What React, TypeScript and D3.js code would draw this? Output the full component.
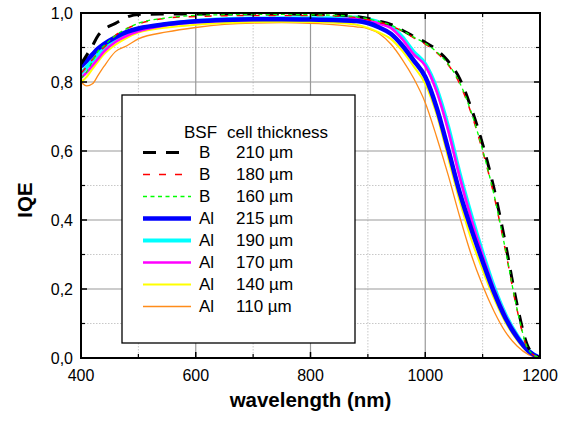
import React from "react";
import * as d3 from "d3";

// wavelength grid (nm) shared by all measured curves
const wavelengths = [
  400, 410, 420, 430, 440, 460, 480, 500, 550, 600, 650, 700, 750, 800, 850, 880,
  900, 920, 940, 960, 980, 1000, 1020, 1040, 1060, 1080, 1100, 1120, 1140, 1160, 1180, 1200,
];

// IQE values per cell
const bsfB210 = [
  0.852, 0.878, 0.905, 0.935, 0.952, 0.97, 0.988, 0.996, 0.997, 0.997, 0.997, 0.997, 0.997, 0.996, 0.994, 0.99,
  0.984, 0.976, 0.967, 0.95, 0.932, 0.915, 0.893, 0.86, 0.81, 0.725, 0.62, 0.49, 0.33, 0.155, 0.03, 0.0,
];
const bsfB180 = [
  0.825, 0.845, 0.865, 0.885, 0.9, 0.935, 0.955, 0.968, 0.985, 0.99, 0.992, 0.993, 0.993, 0.993, 0.991, 0.987,
  0.981, 0.973, 0.963, 0.947, 0.928, 0.91, 0.885, 0.85, 0.795, 0.71, 0.6, 0.47, 0.31, 0.14, 0.022, 0.0,
];
const bsfB160 = [
  0.81, 0.83, 0.86, 0.89, 0.905, 0.935, 0.955, 0.97, 0.986, 0.993, 0.995, 0.996, 0.996, 0.995, 0.993, 0.989,
  0.983, 0.975, 0.965, 0.949, 0.93, 0.912, 0.887, 0.852, 0.798, 0.713, 0.603, 0.472, 0.312, 0.142, 0.024, 0.0,
];
const al215 = [
  0.845, 0.862, 0.88, 0.897, 0.91, 0.93, 0.945, 0.955, 0.968, 0.976, 0.98, 0.982, 0.982, 0.981, 0.979, 0.977,
  0.971, 0.958, 0.94, 0.906, 0.862, 0.815, 0.725, 0.605, 0.48, 0.375, 0.28, 0.19, 0.115, 0.06, 0.02, 0.0,
];
const al190 = [
  0.825, 0.843, 0.862, 0.88, 0.898, 0.925, 0.94, 0.952, 0.968, 0.977, 0.982, 0.984, 0.985, 0.985, 0.985, 0.987,
  0.982, 0.973, 0.962, 0.93, 0.887, 0.852, 0.78, 0.67, 0.535, 0.415, 0.305, 0.205, 0.125, 0.066, 0.022, 0.0,
];
const al170 = [
  0.812, 0.828, 0.848, 0.868, 0.888, 0.916, 0.934, 0.947, 0.965, 0.973, 0.978, 0.98, 0.981, 0.981, 0.982, 0.984,
  0.979, 0.969, 0.957, 0.924, 0.88, 0.847, 0.772, 0.66, 0.525, 0.405, 0.298, 0.2, 0.122, 0.064, 0.021, 0.0,
];
const al140 = [
  0.8, 0.815, 0.838, 0.86, 0.88, 0.908, 0.928, 0.943, 0.958, 0.966, 0.971, 0.974, 0.975, 0.974, 0.971, 0.966,
  0.957, 0.943, 0.925, 0.89, 0.845, 0.795, 0.705, 0.58, 0.455, 0.345, 0.255, 0.172, 0.103, 0.052, 0.016, 0.0,
];
const al110 = [
  0.8, 0.789, 0.795, 0.82, 0.845, 0.888, 0.905, 0.925, 0.945, 0.958, 0.967, 0.971, 0.972, 0.97, 0.965, 0.96,
  0.955, 0.94, 0.91, 0.865, 0.81, 0.74, 0.64, 0.53, 0.41, 0.3, 0.21, 0.135, 0.075, 0.035, 0.01, 0.0,
];

const bsfLabels = ["B", "B", "B", "Al", "Al", "Al", "Al", "Al"];
const thicknessLabels = ["210 µm", "180 µm", "160 µm", "215 µm", "190 µm", "170 µm", "140 µm", "110 µm"];

const xTicks = [400, 600, 800, 1000, 1200];
const xMinor = [500, 700, 900, 1100];
const yTicks = [0, 0.2, 0.4, 0.6, 0.8, 1.0];
const yMinor = [0.1, 0.3, 0.5, 0.7, 0.9];

type Style = { color: string; width: number; dash?: string; legendEnd: number };

const series: { values: number[]; style: Style }[] = [
  { values: bsfB210, style: { color: "#000000", width: 3, dash: "13,10", legendEnd: 179 } },
  { values: bsfB180, style: { color: "#ff0000", width: 1.5, dash: "7,9", legendEnd: 183 } },
  { values: bsfB160, style: { color: "#00ff00", width: 1.3, dash: "4,3.5", legendEnd: 191 } },
  { values: al215, style: { color: "#0000ff", width: 4.5, legendEnd: 191 } },
  { values: al190, style: { color: "#00ffff", width: 4, legendEnd: 191 } },
  { values: al170, style: { color: "#ff00ff", width: 2.6, legendEnd: 191 } },
  { values: al140, style: { color: "#ffff00", width: 2, legendEnd: 191 } },
  { values: al110, style: { color: "#ff8c1a", width: 1.3, legendEnd: 191 } },
];

// draw order: thin Al at the back, B dashed curves in front
const drawOrder = [7, 6, 4, 5, 3, 0, 1, 2];

export default function App() {
  const W = 568;
  const H = 421;
  const m = { left: 81, top: 13, right: 540, bottom: 358 };

  const x = d3.scaleLinear().domain([400, 1200]).range([m.left, m.right]);
  const y = d3.scaleLinear().domain([0, 1]).range([m.bottom, m.top]);

  const line = d3
    .line<[number, number]>()
    .x((d) => x(d[0]))
    .y((d) => y(d[1]))
    .curve(d3.curveMonotoneX);

  const font = "'Liberation Sans', Arial, Helvetica, sans-serif";
  const fmtY = (v: number) => v.toFixed(1).replace(".", ",");

  const legX = 122;
  const legY = 95;
  const rowY = (i: number) => 152.5 + i * 22;
  const legFont = 17;

  return (
    <svg
      width={W}
      height={H}
      style={{ position: "absolute", left: 0, top: 0, background: "#fff" }}
      fontFamily={font}
    >
      <defs>
        <clipPath id="plot">
          <rect x={m.left} y={m.top - 2} width={m.right - m.left} height={m.bottom - m.top + 2} />
        </clipPath>
      </defs>

      {/* minor grid */}
      {xMinor.map((v) => (
        <line key={"xm" + v} x1={x(v)} x2={x(v)} y1={m.top} y2={m.bottom} stroke="#c8c8c8" strokeWidth={1} strokeDasharray="1.5,1.5" />
      ))}
      {yMinor.map((v) => (
        <line key={"ym" + v} x1={m.left} x2={m.right} y1={y(v)} y2={y(v)} stroke="#c8c8c8" strokeWidth={1} strokeDasharray="1.5,1.5" />
      ))}
      {/* major grid */}
      {xTicks.slice(1, -1).map((v) => (
        <line key={"xg" + v} x1={x(v)} x2={x(v)} y1={m.top} y2={m.bottom} stroke="#999" strokeWidth={1.2} />
      ))}
      {yTicks.slice(1, -1).map((v) => (
        <line key={"yg" + v} x1={m.left} x2={m.right} y1={y(v)} y2={y(v)} stroke="#999" strokeWidth={1.2} />
      ))}

      {/* curves */}
      <g clipPath="url(#plot)">
        {drawOrder.map((i) => {
          const s = series[i];
          const pts = wavelengths.map((w, k) => [w, s.values[k]] as [number, number]);
          return (
            <path
              key={"s" + i}
              d={line(pts) || ""}
              fill="none"
              stroke={s.style.color}
              strokeWidth={s.style.width}
              strokeDasharray={s.style.dash}
              strokeLinejoin="round"
            />
          );
        })}
      </g>

      {/* legend */}
      <rect x={legX} y={legY} width={233} height={248} fill="#fff" stroke="#000" strokeWidth={1.3} />
      <text x={184} y={132} dominantBaseline="central" fontSize={legFont} fill="#000">BSF</text>
      <text x={227} y={132} dominantBaseline="central" fontSize={legFont} fill="#000">cell thickness</text>
      {series.map((s, i) => (
        <g key={"leg" + i}>
          <line
            x1={143}
            x2={s.style.legendEnd}
            y1={rowY(i)}
            y2={rowY(i)}
            stroke={s.style.color}
            strokeWidth={s.style.width}
            strokeDasharray={s.style.dash}
          />
          <text x={199} y={rowY(i)} dominantBaseline="central" fontSize={legFont} fill="#000">{bsfLabels[i]}</text>
          <text x={236} y={rowY(i)} dominantBaseline="central" fontSize={legFont} fill="#000">{thicknessLabels[i]}</text>
        </g>
      ))}

      {/* ticks, inward on all four sides */}
      {xTicks.map((v) => (
        <g key={"xt" + v}>
          <line x1={x(v)} x2={x(v)} y1={m.bottom} y2={m.bottom - 6} stroke="#000" strokeWidth={1.5} />
          <line x1={x(v)} x2={x(v)} y1={m.top} y2={m.top + 6} stroke="#000" strokeWidth={1.5} />
          <text x={x(v)} y={381} textAnchor="middle" fontSize={16} fill="#000">{v}</text>
        </g>
      ))}
      {xMinor.map((v) => (
        <g key={"xmt" + v}>
          <line x1={x(v)} x2={x(v)} y1={m.bottom} y2={m.bottom - 4} stroke="#000" strokeWidth={1.2} />
          <line x1={x(v)} x2={x(v)} y1={m.top} y2={m.top + 4} stroke="#000" strokeWidth={1.2} />
        </g>
      ))}
      {yTicks.map((v) => (
        <g key={"yt" + v}>
          <line x1={m.left} x2={m.left + 6} y1={y(v)} y2={y(v)} stroke="#000" strokeWidth={1.5} />
          <line x1={m.right} x2={m.right - 6} y1={y(v)} y2={y(v)} stroke="#000" strokeWidth={1.5} />
          <text x={73} y={y(v)} textAnchor="end" dominantBaseline="central" fontSize={16} fill="#000">{fmtY(v)}</text>
        </g>
      ))}
      {yMinor.map((v) => (
        <g key={"ymt" + v}>
          <line x1={m.left} x2={m.left + 4} y1={y(v)} y2={y(v)} stroke="#000" strokeWidth={1.2} />
          <line x1={m.right} x2={m.right - 4} y1={y(v)} y2={y(v)} stroke="#000" strokeWidth={1.2} />
        </g>
      ))}

      {/* frame */}
      <rect x={m.left} y={m.top} width={m.right - m.left} height={m.bottom - m.top} fill="none" stroke="#000" strokeWidth={2} />

      {/* axis titles */}
      <text x={(m.left + m.right) / 2} y={407} textAnchor="middle" fontSize={20.5} fontWeight="bold" fill="#000">
        wavelength (nm)
      </text>
      <text
        transform="translate(32,200) rotate(-90)"
        textAnchor="middle"
        fontSize={20.5}
        fontWeight="bold"
        fill="#000"
      >
        IQE
      </text>
    </svg>
  );
}
